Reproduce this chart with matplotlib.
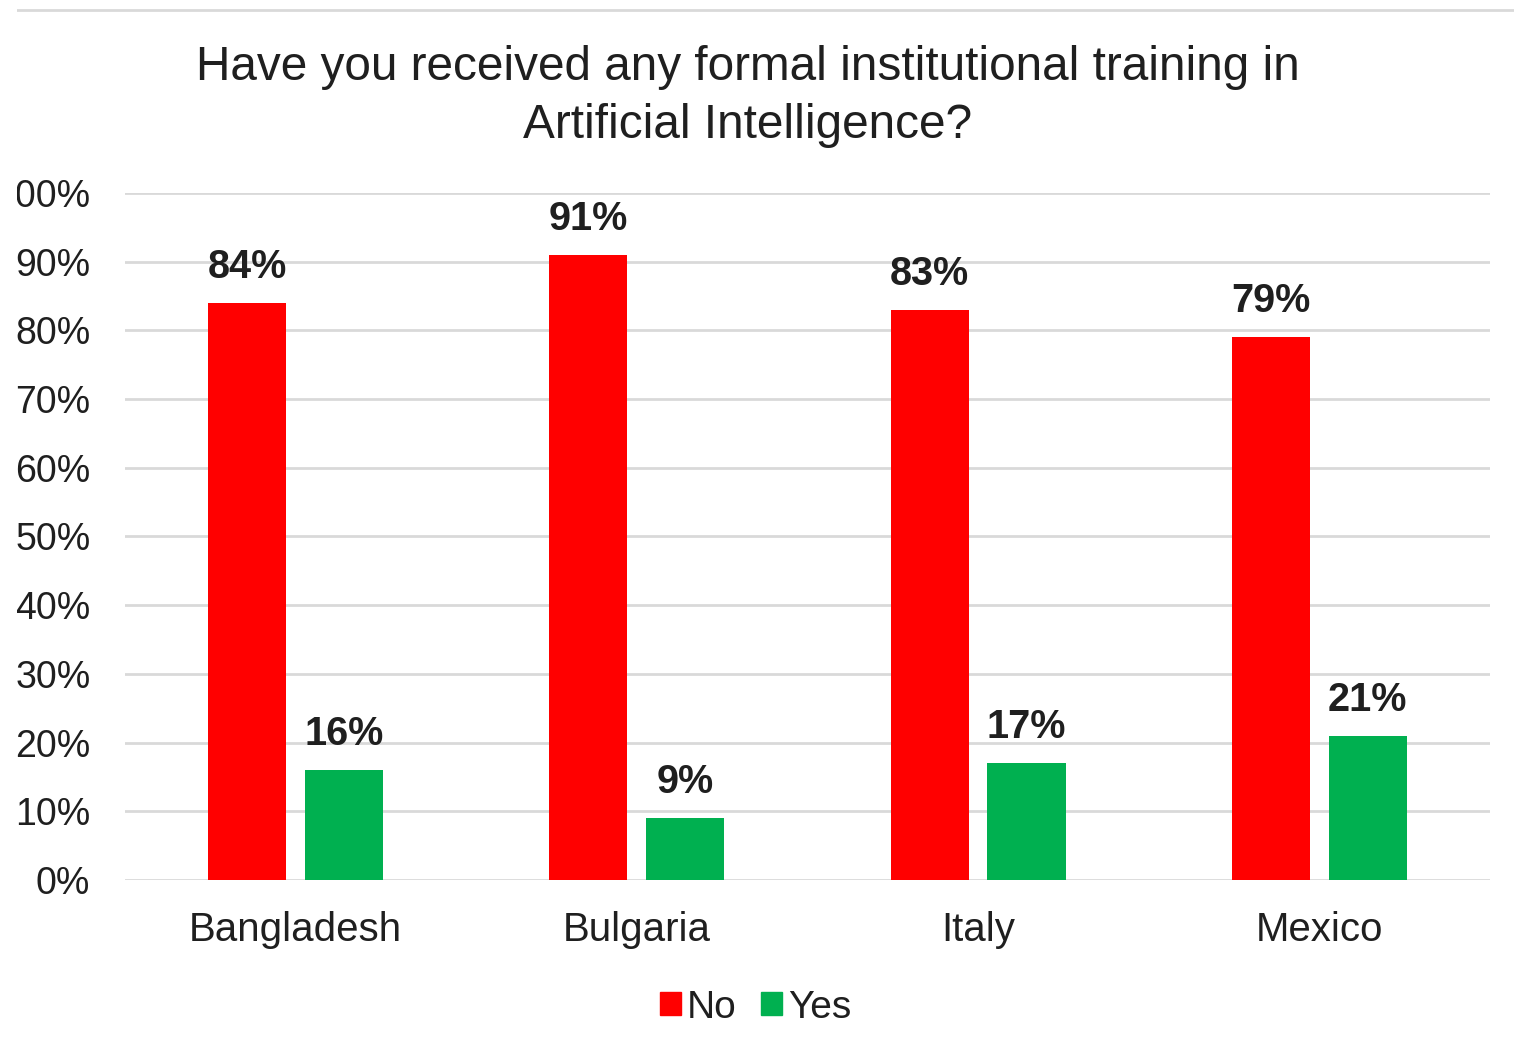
import numpy as np
import matplotlib
matplotlib.use('Agg')
import matplotlib.pyplot as plt
from matplotlib.patches import Patch, Rectangle
from matplotlib.lines import Line2D

paises = ['Bangladesh', 'Bulgaria', 'Italy', 'Mexico']
nao = [0.84, 0.91, 0.83, 0.79]
sim = [0.16, 0.09, 0.17, 0.21]
series = ['No', 'Yes']

vermelho = '#FF0000'
verde = '#00B050'
texto = '#1f1f1f'

plt.rcParams['font.family'] = ['Liberation Sans', 'DejaVu Sans']

fig = plt.figure(figsize=(15.14, 10.55), dpi=100)
ax = fig.add_axes([0.0826, 0.1659, 0.9015, 0.6512])

x = np.arange(len(paises))
largura = 0.229
desloc = 0.142

b1 = ax.bar(x - desloc, nao, largura, color=vermelho, zorder=3)
b2 = ax.bar(x + desloc, sim, largura, color=verde, zorder=3)

for barras, vals in [(b1, nao), (b2, sim)]:
    for b, v in zip(barras, vals):
        ax.annotate(f'{v:.0%}', (b.get_x() + b.get_width() / 2, v),
                    xytext=(0, 18), textcoords='offset points',
                    ha='center', va='baseline', fontsize=28.5,
                    fontweight='bold', color=texto)

ax.set_xlim(-0.5, 3.5)
ax.set_ylim(0, 1.0)
ax.set_yticks(np.arange(0, 1.01, 0.1))
ax.set_yticklabels([f'{int(round(t * 100))}%' for t in np.arange(0, 1.01, 0.1)])
ax.set_xticks(x)
ax.set_xticklabels(paises)
ax.tick_params(axis='y', length=0, pad=25, labelsize=27, labelcolor=texto)
ax.tick_params(axis='x', length=0, pad=22, labelsize=29, labelcolor=texto)

ax.grid(True, axis='y', color='#d9d9d9', linewidth=2, zorder=0)
for s in ax.spines.values():
    s.set_visible(False)

fig.text(0.494, 0.936, 'Have you received any formal institutional training in',
         ha='center', va='center', fontsize=34.4, color=texto)
fig.text(0.494, 0.881, 'Artificial Intelligence?',
         ha='center', va='center', fontsize=34.4, color=texto)

# linha no topo
fig.add_artist(Line2D([0.011, 1.0], [0.9905, 0.9905], color='#d9d9d9',
                      linewidth=2, transform=fig.transFigure))

handles = [Patch(color=vermelho), Patch(color=verde)]
fig.legend(handles, series, loc='center', bbox_to_anchor=(0.499, 0.045),
           ncol=2, frameon=False, fontsize=28, handlelength=0.53,
           handleheight=0.53, handletextpad=0.15, columnspacing=0.65,
           labelcolor=texto)

# faixa branca na borda esquerda (imagem cortada)
fig.add_artist(Rectangle((0, 0), 17 / 1514, 1, transform=fig.transFigure,
                         facecolor='white', edgecolor='none', zorder=10))

fig.savefig('out.png', dpi=100)
